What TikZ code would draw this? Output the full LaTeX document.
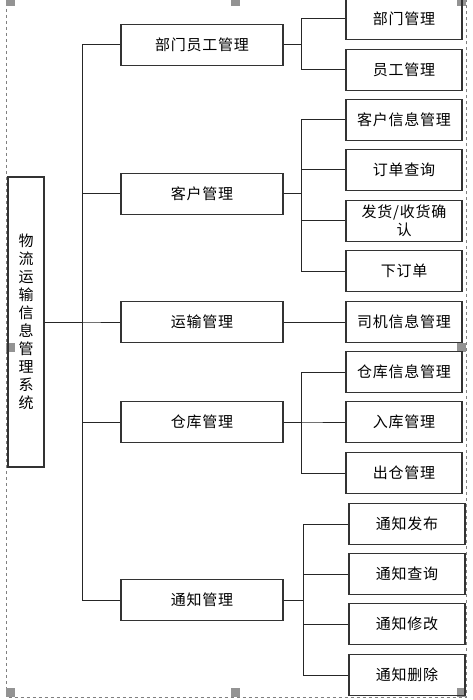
\documentclass[tikz,border=0pt]{standalone}
\usepackage{fontspec}
\newfontfamily\cjkfont[LetterSpace=5]{Noto Sans CJK SC}
\begin{document}
\begin{tikzpicture}[x=1pt, y=-1pt,
  every node/.style={font=\cjkfont\fontsize{15}{18}\selectfont, inner sep=0pt},
  sysbox/.style={draw=black!80, line width=1.1pt, minimum width=36pt, minimum height=290pt, align=center},
  modbox/.style={draw=black!80, line width=1.1pt, minimum width=162pt, minimum height=41pt},
  subbox/.style={draw=black!80, line width=1.1pt, minimum width=116pt, minimum height=41pt, align=center},
  link/.style={draw=black!85, line width=1pt}]
                \useasboundingbox (0,0) rectangle (472,700);
                \draw[gray, dashed, line width=0.6pt] (6.5,-3) rectangle (466,697);
                \foreach \hx/\hy in {6/-3, 231/-3, 457/-3, 6/343, 457/343, 6/688, 231/688, 457/688}
                  \fill[gray!85] (\hx,\hy) rectangle ++(9,9);

                \node (sys) [sysbox] at (26,322) {物\\流\\运\\输\\信\\息\\管\\理\\系\\统};

                \node (m1) [modbox] at (202,45) {部门员工管理};
                \node (m2) [modbox] at (202,194) {客户管理};
                \node (m3) [modbox] at (202,322) {运输管理};
                \node (m4) [modbox] at (202,422) {仓库管理};
                \node (m5) [modbox] at (202,600) {通知管理};

                \node (m1a) [subbox] at (404,19) {部门管理};
                \node (m1b) [subbox] at (404,70) {员工管理};
                \node (m2a) [subbox] at (404,120) {客户信息管理};
                \node (m2b) [subbox] at (404,170) {订单查询};
                \node (m2c) [subbox] at (404,221) {发货/收货确\\认};
                \node (m2d) [subbox] at (404,271) {下订单};
                \node (m3a) [subbox] at (404,322) {司机信息管理};
                \node (m4a) [subbox] at (404,372) {仓库信息管理};
                \node (m4b) [subbox] at (404,422) {入库管理};
                \node (m4c) [subbox] at (404,473) {出仓管理};
                \node (m5a) [subbox] at (407,524) {通知发布};
                \node (m5b) [subbox] at (407,574) {通知查询};
                \node (m5c) [subbox] at (407,624) {通知修改};
                \node (m5d) [subbox] at (407,675) {通知删除};

                \coordinate (trunk) at (82,0);
                \coordinate (br) at (301,0);
                \coordinate (br5) at (303,0);

                \foreach \m in {m1,m2,m3,m4,m5}
                  \draw[link] (sys.east) -- (sys.east -| trunk) |- (\m.west);
                \foreach \s in {m1a,m1b}
                  \draw[link] (m1.east) -- (m1.east -| br) |- (\s.west);
                \foreach \s in {m2a,m2b,m2c,m2d}
                  \draw[link] (m2.east) -- (m2.east -| br) |- (\s.west);
                \draw[link] (m3) -- (m3a);
                \foreach \s in {m4a,m4b,m4c}
                  \draw[link] (m4.east) -- (m4.east -| br) |- (\s.west);
                \foreach \s in {m5a,m5b,m5c,m5d}
                  \draw[link] (m5.east) -- (m5.east -| br5) |- (\s.west);
            \end{tikzpicture}
\end{document}
